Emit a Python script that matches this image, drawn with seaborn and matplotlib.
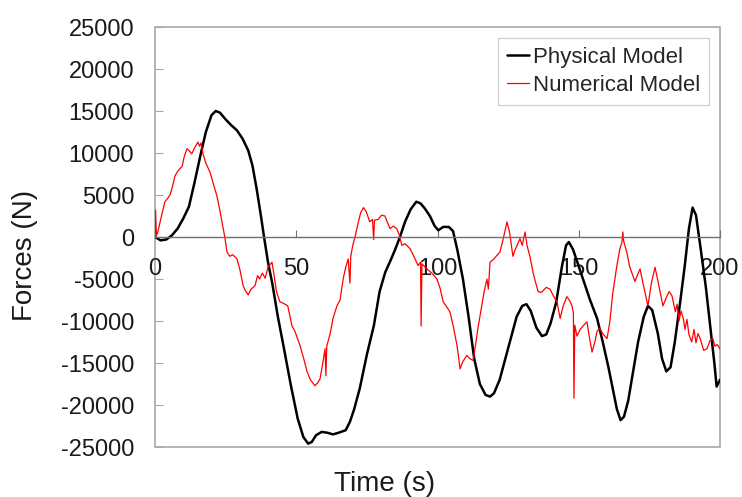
import matplotlib
matplotlib.use("Agg")
import matplotlib.pyplot as plt
import seaborn as sns
import pandas as pd
from matplotlib.patches import Rectangle

# Physical model (black) - time (s), force (N)
phys_t = [0, 2, 4, 6, 8, 10, 12, 14, 16, 18, 20, 21.5, 23, 25, 27, 29, 31, 33, 34.5, 36,
          37.5, 38.6, 40, 41.5, 43.5, 45.5, 48, 50.5, 52.5, 54.2, 55.5, 57, 59, 61, 63, 65,
          67.5, 69, 70.5, 72.5, 75, 77.5, 79.5, 81.5, 83.5, 85, 86.7, 88.5, 90.5, 92.5, 94,
          95.5, 97.3, 99, 100.3, 102, 104, 105.5, 107, 109, 111, 113, 115, 117, 118.6, 120,
          122, 124, 126, 128, 130, 131.5, 133, 135, 137, 138.5, 140, 142, 144, 145.5, 146.5,
          148, 150, 152, 154, 156.5, 158.5, 160.5, 162, 163.5, 164.8, 166, 167.5, 169, 171,
          173, 174.5, 176, 178, 179.5, 181, 182.5, 184, 186, 187.5, 189, 190.3, 191.5, 193,
          195, 196.5, 198, 198.8, 200]
phys_f = [0, -400, -300, 200, 1000, 2200, 3600, 6500, 9600, 12500, 14500, 15000, 14800,
          14000, 13300, 12700, 11700, 10300, 8500, 5700, 2500, 0, -3000, -5500, -9500,
          -13000, -17500, -21600, -23800, -24600, -24400, -23600, -23200, -23300, -23500,
          -23300, -23000, -22000, -20500, -18000, -14000, -10500, -6500, -4200, -2700, -1500,
          0, 1800, 3300, 4200, 4000, 3400, 2500, 1300, 800, 1200, 1200, 700, -1500, -5000,
          -9500, -14500, -17500, -18800, -19000, -18600, -17000, -14500, -12000, -9500, -8200,
          -8000, -8800, -10800, -11800, -11600, -10300, -7800, -3600, -1000, -600, -1500,
          -3500, -5500, -7500, -9700, -12500, -15500, -18000, -20500, -21800, -21400, -19500,
          -16500, -12500, -9500, -8200, -8700, -11500, -14500, -16000, -15500, -12500, -7500,
          -3500, 1000, 3500, 2600, -1000, -6000, -10500, -15000, -17800, -17000]

# Numerical model (red)
num_t = [0, 0.2, 0.5, 1, 1.8, 2.5, 3.5, 4.5, 5.3, 6.2, 7, 7.8, 8.7, 9.6, 10.3, 11.3, 12, 13,
         14, 15.2, 15.8, 16.3, 17, 18, 19.5, 20.5, 21.9, 23, 23.7, 24.6, 25.5, 26.5, 27.5,
         29, 30, 31.2, 32, 33, 34, 35.4, 36.3, 37, 38, 39, 40, 41.4, 42, 43, 44.2, 45.5, 47,
         48.5, 49.5, 51.3, 52.5, 53.8, 55, 56.6, 57.5, 58.4, 59.3, 60.2, 60.5, 60.8, 62, 63,
         64.4, 65.5, 66.6, 67.5, 68.4, 69, 69.3, 70, 70.8, 71.8, 72.8, 73.8, 74.8, 76, 77,
         77.4, 77.7, 79, 80.2, 81.4, 82.2, 83.2, 84.3, 85.6, 86.5, 87.4, 88.5, 90.3, 91.5,
         93.1, 94, 94.2, 94.5, 96.3, 98, 99.8, 101, 102, 103, 104.4, 105.5, 106.9, 108, 109,
         110.4, 111.5, 112.6, 113.4, 114.3, 115.5, 116.5, 117.5, 118, 118.6, 120, 121, 122.1,
         123.2, 124.6, 125.5, 126.7, 127.5, 128.3, 129.2, 130, 131, 131.7, 132.7, 134, 135.6,
         136.8, 138.5, 139.8, 141, 142.3, 143.4, 144.5, 145.8, 146.8, 147.6, 148.1, 148.3,
         148.6, 149.4, 150.5, 151.5, 152.9, 153.8, 154.7, 155.7, 156.5, 157.5, 158.5, 160,
         161, 162, 163.5, 164.5, 165.3, 165.6, 165.9, 167, 168, 169.9, 170.8, 171.7, 172.8,
         174.5, 175.7, 177, 178, 179.8, 181, 182, 183, 184.2, 184.8, 185.5, 186.2, 187,
         187.6, 188.3, 189, 190, 190.8, 191.5, 192.2, 193, 194.2, 195.4, 196.5, 197.5, 198.2,
         199, 200]
num_f = [0, 3200, 200, 600, 1800, 2800, 4200, 4600, 5000, 6000, 7200, 7700, 8100, 8400,
         9500, 10500, 10300, 9900, 10600, 11300, 10800, 11200, 9900, 8800, 7700, 6500, 4900,
         3100, 1800, 200, -1800, -2300, -2100, -2600, -3800, -5800, -6400, -6900, -6200,
         -5800, -4600, -5000, -4300, -4900, -3600, -3000, -4200, -6500, -7700, -7900, -8200,
         -10600, -11200, -12900, -14300, -16000, -17000, -17700, -17400, -16900, -15200,
         -13300, -16500, -13000, -11500, -9700, -8200, -7500, -5000, -3600, -2600, -5500,
         -2300, -1000, 0, 1500, 2900, 3500, 3000, 1800, 2100, -300, 2000, 2100, 2600, 2500,
         1800, 1000, 1300, 1000, 200, -1000, -800, -1400, -2200, -3400, -3000, -10600, -3200,
         -3800, -4300, -5000, -6200, -7700, -8200, -8900, -10500, -12900, -15700, -14800,
         -14100, -14500, -14700, -13000, -10900, -8500, -6500, -5000, -6200, -3000, -2600,
         -2200, -1800, -300, 1800, 600, -2300, -1500, -900, -200, -1000, 600, -1000, -2300,
         -4500, -6500, -6600, -6000, -6200, -7000, -7700, -9700, -8200, -7100, -7600, -8200,
         -9000, -19200, -10500, -11800, -11000, -10600, -10100, -12000, -13700, -12500,
         -11200, -10900, -11500, -12100, -10100, -6800, -3400, -1500, -600, 600, -500, -1800,
         -3500, -5300, -4500, -3800, -5600, -8200, -5500, -3600, -5200, -8200, -7200, -6500,
         -7000, -8900, -8000, -10000, -8800, -9700, -11000, -9800, -11600, -12500, -11000,
         -12600, -11500, -12100, -13500, -13300, -12300, -12100, -13000, -12800, -13300]

x_ticks = [0, 50, 100, 150, 200]
y_ticks = list(range(-25000, 25001, 5000))

sns.set_style("white")
plt.rcParams['font.family'] = ['Liberation Sans', 'DejaVu Sans']
plt.rcParams['axes.unicode_minus'] = False

phys = pd.DataFrame({"t": phys_t, "f": phys_f})
num = pd.DataFrame({"t": num_t, "f": num_f})

fig = plt.figure(figsize=(7.42, 4.97), dpi=100)
ax = fig.add_axes([155 / 742, 1 - 447 / 497, 565 / 742, 420 / 497])

sns.lineplot(data=phys, x="t", y="f", ax=ax, color="black", lw=1.8,
             estimator=None, sort=False, label="Physical Model")
sns.lineplot(data=num, x="t", y="f", ax=ax, color="#ff0000", lw=0.9,
             estimator=None, sort=False, label="Numerical Model")

ax.set_xlim(0, 200)
ax.set_ylim(-25000, 25000)
ax.set_xticks(x_ticks)
ax.set_yticks(y_ticks)
ax.set_xlabel("")
ax.set_ylabel("")

# x axis drawn through zero, box drawn as a frame
for s in ["top", "right", "left"]:
    ax.spines[s].set_visible(False)
ax.spines["bottom"].set_position(("data", 0))
ax.spines["bottom"].set_color("#707070")
ax.spines["bottom"].set_linewidth(1.0)
ax.add_patch(Rectangle((0, 0), 1, 1, transform=ax.transAxes, fill=False,
                       edgecolor="#a8a8a8", lw=1.2, clip_on=False, zorder=0))

ax.tick_params(axis="y", direction="in", length=6, color="#a8a8a8", pad=15,
               labelsize=17, labelcolor="#1a1a1a", left=True)
ax.tick_params(axis="x", direction="in", length=5, color="#707070", pad=15,
               labelsize=17, labelcolor="#1a1a1a", bottom=True)

fig.text(385 / 742, 1 - 484 / 497, "Time (s)", fontsize=20, ha="center", va="center",
         color="#1a1a1a")
fig.text(25 / 742, 1 - 255 / 497, "Forces (N)", fontsize=20, ha="center", va="center",
         rotation=90, color="#1a1a1a")

leg = ax.legend(loc="upper right", frameon=True, fancybox=False, edgecolor="#c8c8c8",
                fontsize=16, handlelength=1.0, handletextpad=0.15, borderaxespad=0.5,
                labelspacing=0.3, borderpad=0.4)
leg.get_frame().set_linewidth(1.0)

fig.savefig("out.png", dpi=100)
